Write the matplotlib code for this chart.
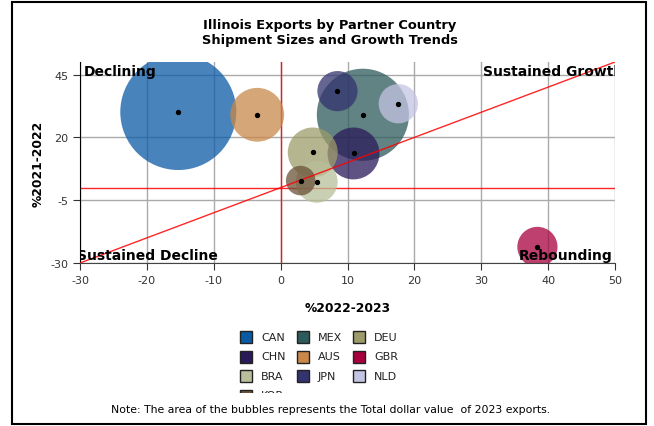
import numpy as np
import matplotlib
matplotlib.use("Agg")
import matplotlib.pyplot as plt
from matplotlib.patches import Rectangle

plt.rcParams["axes.unicode_minus"] = False

# Illinois exports by partner country
countries = ["CAN", "MEX", "DEU", "CHN", "AUS", "GBR", "BRA", "JPN", "NLD", "KOR"]
growth_2223 = [-15.3, 12.3, 4.8, 10.9, -3.5, 38.4, 5.4, 8.5, 17.6, 3.0]
growth_2122 = [30.1, 29.0, 14.0, 13.6, 29.0, -23.6, 2.3, 38.4, 33.4, 2.8]
exports_2023 = [20.0, 12.6, 3.7, 4.0, 4.3, 2.4, 2.6, 2.4, 2.3, 1.3]  # $ billions
colors = ["#0b5aa6", "#2d5a5a", "#9c9c6a", "#2a1a5a", "#c8884a",
          "#a8003e", "#b8bf9a", "#33336e", "#c4c4e4", "#6b5238"]

xticks = [-30, -20, -10, 0, 10, 20, 30, 40, 50]
yticks = [-30, -5, 20, 45]

W, H = 654, 427
fig = plt.figure(figsize=(W / 100, H / 100), dpi=100)

# outer frame
fig.patches.append(Rectangle((12 / W, 2 / H), 634 / W, 422 / H, transform=fig.transFigure,
                             fill=False, edgecolor="black", lw=1.5))

ax = fig.add_axes([80 / W, 1 - 264 / H, 535 / W, 201 / H])
ax.set_xlim(-30, 50)
ax.set_ylim(-30, 50)
ax.set_xticks(xticks)
ax.set_yticks(yticks)
ax.grid(True, color="#aaaaaa", lw=1)
ax.set_axisbelow(True)
for s in ["top", "right"]:
    ax.spines[s].set_visible(False)
ax.spines["left"].set_color("black")
ax.spines["bottom"].set_color("#444444")
ax.tick_params(labelsize=8, colors="#333333", length=5)

# reference lines
ax.axhline(0, color="red", lw=1, alpha=0.85)
ax.axvline(0, color="red", lw=1, alpha=0.85)
ax.plot([-30, 50], [-30, 50], color="red", lw=1, alpha=0.85, zorder=5)

# bubbles, biggest first so small ones sit on top
k = 6980 / 20.0
order = np.argsort(exports_2023)[::-1]
for i in order:
    ax.scatter(growth_2223[i], growth_2122[i], s=exports_2023[i] * k, color=colors[i],
               alpha=0.75, edgecolors="none", zorder=3)
ax.scatter(growth_2223, growth_2122, s=8, color="black", zorder=6)

qfont = dict(fontsize=10, fontweight="bold", clip_on=True, zorder=7)
ax.text(-29.5, 46.6, "Declining", ha="left", va="center", **qfont)
ax.text(30.2, 46.6, "Sustained Growth", ha="left", va="center", **qfont)
ax.text(-30.4, -26.8, "Sustained Decline", ha="left", va="center", **qfont)
ax.text(49.7, -26.8, "Rebounding", ha="right", va="center", **qfont)

ax.set_xlabel("%2022-2023", fontsize=8.8, fontweight="bold", labelpad=12)
ax.set_ylabel("%2021-2022", fontsize=8.8, fontweight="bold", labelpad=4)

fig.text(330 / W, 1 - 33 / H, "Illinois Exports by Partner Country\nShipment Sizes and Growth Trends",
         ha="center", va="center", fontsize=9.4, fontweight="bold", linespacing=1.2)

# legend, cut off at the bottom like the original
lx0, lx1, ly0, ly1 = 220, 440, 325, 393.5
lax = fig.add_axes([lx0 / W, 1 - ly1 / H, (lx1 - lx0) / W, (ly1 - ly0) / H])
lax.set_xlim(lx0, lx1)
lax.set_ylim(ly1, ly0)
lax.axis("off")
col_x = [240, 297, 353]
for j, (name, c) in enumerate(zip(countries, colors)):
    r, col = divmod(j, 3)
    yc = 338 + r * 19.5
    lax.add_patch(Rectangle((col_x[col], yc - 6), 12, 12, facecolor=c,
                            edgecolor="#222222", lw=1, clip_on=True))
    lax.text(col_x[col] + 21, yc, name, fontsize=8, va="center", ha="left",
             color="#222222", clip_on=True)

fig.text(331 / W, 1 - 410 / H,
         "Note: The area of the bubbles represents the Total dollar value  of 2023 exports.",
         ha="center", va="center", fontsize=7.8)

fig.savefig("out.png", dpi=100)
